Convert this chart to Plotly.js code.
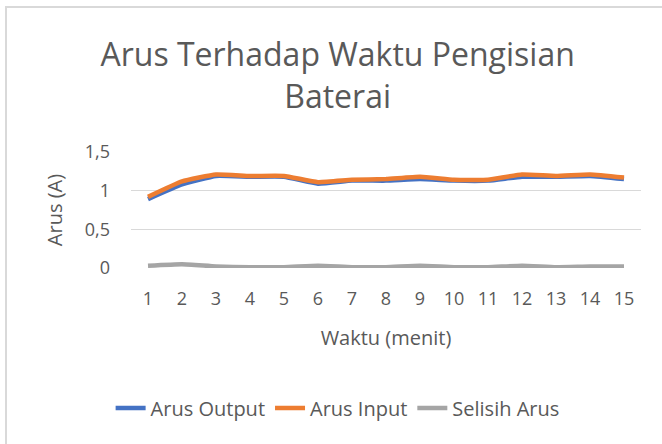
<!DOCTYPE html>
<html><head><meta charset="utf-8">
<script src="https://cdn.plot.ly/plotly-3.0.1.min.js"></script>
<style>
html,body{margin:0;padding:0;background:#fff;}
#frame{position:absolute;left:5px;top:6px;width:700px;height:500px;border-left:2px solid #d9d9d9;border-top:2px solid #d9d9d9;pointer-events:none;z-index:5;}
#chart{position:absolute;left:0;top:0;width:662px;height:444px;}
</style></head>
<body>
<div id="chart"></div><div id="frame"></div>
<script>
const waktu = ["1","2","3","4","5","6","7","8","9","10","11","12","13","14","15"];
const arusOutput = [0.89,1.08,1.19,1.18,1.18,1.09,1.13,1.13,1.15,1.13,1.13,1.18,1.18,1.19,1.15];
const arusInput  = [0.92,1.12,1.21,1.19,1.19,1.11,1.14,1.15,1.18,1.14,1.14,1.21,1.19,1.21,1.17];
const selisihArus = [0.03,0.05,0.02,0.01,0.01,0.03,0.01,0.01,0.03,0.01,0.01,0.03,0.01,0.02,0.02];
const yTicks = [0,0.5,1,1.5];
const yTickText = ["0","0,5","1","1,5"];

const font = "'Open Sans', sans-serif";
const mk = (name, y, color) => ({
  type:'scatter', mode:'lines', name, x:waktu, y,
  line:{color, width:4.5, shape:'spline', smoothing:0.4}
});
const data = [
  mk('Arus Output', arusOutput, '#4472C4'),
  mk('Arus Input', arusInput, '#ED7D31'),
  mk('Selisih Arus', selisihArus, '#A5A5A5')
];
const layout = {
  width:662, height:444,
  paper_bgcolor:'#fff', plot_bgcolor:'#fff',
  margin:{l:131, r:21, t:152, b:176},
  font:{family:font, color:'#595959', size:18},
  title:{text:'Arus Terhadap Waktu Pengisian<br>Baterai', x:0.51, xanchor:'center', xref:'container',
         y:1-66/444, yanchor:'middle', yref:'container',
         font:{family:font, size:32, color:'#595959'}},
  xaxis:{type:'category', range:[-0.5,14.5], showgrid:false, zeroline:false, showline:false, ticks:'',
         tickfont:{size:18, color:'#595959'}, ticklabelstandoff:18,
         title:{text:'Waktu (menit)', font:{size:20, color:'#595959'}, standoff:21}},
  yaxis:{range:[0,1.5], tickvals:yTicks, ticktext:yTickText, showgrid:true, gridcolor:'#d9d9d9', gridwidth:1.5,
         zeroline:false, showline:false, ticks:'', tickfont:{size:18, color:'#595959'}, ticklabelstandoff:20,
         title:{text:'Arus (A)', font:{size:20, color:'#595959'}, standoff:16}},
  legend:{orientation:'h', x:0.51, xanchor:'center', xref:'container', y:1-408/444, yanchor:'middle', yref:'container',
          font:{size:20, color:'#595959'}, itemwidth:30, traceorder:'normal'},
  showlegend:true
};
Plotly.newPlot('chart', data, layout, {displayModeBar:false, staticPlot:true});
</script>
</body></html>
